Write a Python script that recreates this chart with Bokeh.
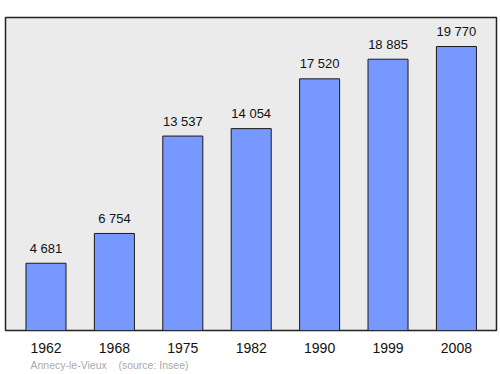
from bokeh.plotting import figure
from bokeh.models import Range1d, FixedTicker, Title, ColumnDataSource
from bokeh.core.properties import value
from bokeh.embed import file_html
from bokeh.resources import INLINE

years = ["1962", "1968", "1975", "1982", "1990", "1999", "2008"]
population = [4681, 6754, 13537, 14054, 17520, 18885, 19770]
value_labels = ["4 681", "6 754", "13 537", "14 054", "17 520", "18 885", "19 770"]
town = "Annecy-le-Vieux"
source_text = "(source: Insee)"

idx = list(range(len(years)))
src = ColumnDataSource(dict(x=idx, y=population, lab=value_labels))

p = figure(width=500, height=374, output_backend="svg", toolbar_location=None,
           x_range=Range1d(-0.592, 6.586), y_range=Range1d(0, 21790),
           y_axis_location=None, tools="")
p.min_border = 0
p.min_border_left = 5
p.min_border_right = 4
p.min_border_top = 17
p.min_border_bottom = 44

p.background_fill_color = "#ebebeb"
p.border_fill_color = "white"
p.outline_line_color = "#222222"
p.outline_line_width = 1.5
p.grid.visible = False

p.vbar(x="x", top="y", width=0.585, bottom=0, source=src,
       fill_color="#7799ff", line_color="#1a1a1a", line_width=1)

p.text(x="x", y="y", text="lab", source=src, text_align="center",
       text_baseline="alphabetic", y_offset=-15,
       text_font=value("Liberation Sans"), text_font_size="13px", text_color="#111111")

ax = p.xaxis[0]
ax.ticker = FixedTicker(ticks=idx)
ax.major_label_overrides = {i: y for i, y in enumerate(years)}
ax.axis_line_color = None
ax.major_tick_line_color = None
ax.minor_tick_line_color = None
ax.major_label_standoff = 6
ax.major_label_text_font = "Liberation Sans"
ax.major_label_text_font_size = "14px"
ax.major_label_text_color = "#111111"

nb = "\u00a0"
foot = Title(text=town + nb * 4 + source_text, align="left", offset=25,
             text_font="Liberation Sans", text_font_size="10.5px",
             text_font_style="normal", text_color="#aaaaaa", standoff=2)
p.add_layout(foot, "below")

open("out.html", "w").write(file_html(p, INLINE))
